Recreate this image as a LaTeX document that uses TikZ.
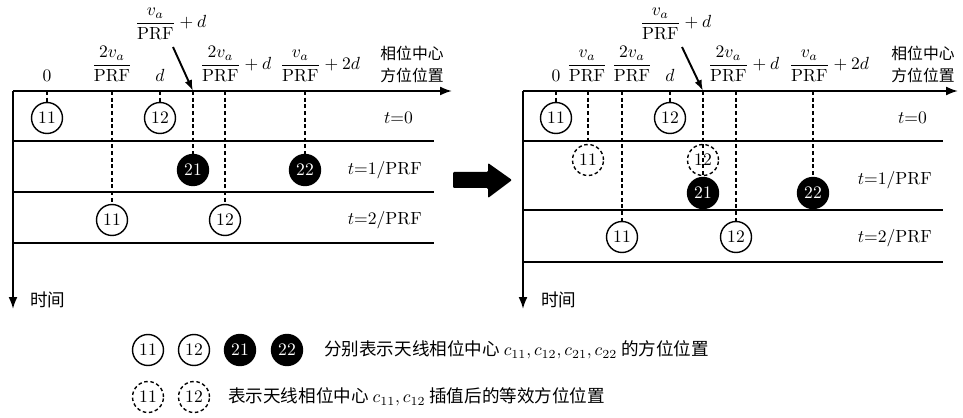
\documentclass[tikz,border=0pt]{standalone}
\usepackage{amsmath}
\usepackage{fontspec}
\newfontfamily\cjk{Noto Sans CJK SC}
\usetikzlibrary{arrows.meta}

\begin{document}
\begin{tikzpicture}[x=0.02cm,y=-0.02cm,
  ant/.style={circle,draw,line width=0.8pt,minimum size=0.62cm,inner sep=0pt},
  antfill/.style={ant,fill=black,text=white},
  antdash/.style={ant,dash pattern=on 2pt off 1.5pt},
  axis/.style={line width=1.1pt,-{Latex[length=2.4mm,width=1.8mm]}},
  rowline/.style={line width=1.1pt},
  tick/.style={line width=1pt,dash pattern=on 2.2pt off 1.6pt},
  ptr/.style={line width=1.1pt,-{Latex[length=2.2mm,width=1.5mm]}},
  lab/.style={anchor=south,inner sep=1pt},
  labw/.style={anchor=south west,inner sep=1pt},
  cjklab/.style={align=center,font=\cjk\fontsize{9}{12.5}\selectfont}]
  \useasboundingbox (0,0) rectangle (963,418);

  % left: before interpolation
  \draw[axis] (13,91) -- (452,91);
  \draw[axis] (13,91) -- (13,309);
  \draw[rowline] (13,141) -- (434,141);
  \draw[rowline] (13,192) -- (434,192);
  \draw[rowline] (13,243) -- (434,243);
  \node[cjklab,font=\cjk\fontsize{10}{12}\selectfont,anchor=west] (ltime) at (24,300) {时间};
  \node[cjklab] (laxis) at (412,64) {相位中心\\方位位置};

  \coordinate (l0) at (47,91);
  \coordinate (l1) at (112,91);
  \coordinate (l2) at (160,91);
  \coordinate (l3) at (193,91);
  \coordinate (l4) at (225,91);
  \coordinate (l5) at (305,91);
  \coordinate (lpt) at (173,47);

  \node[lab] (lx0) at (47,84) {$0$};
  \node[lab] (lx1) at (112,84) {$\dfrac{2v_a}{\mathrm{PRF}}$};
  \node[lab] (lx2) at (160,84) {$d$};
  \node[labw] (lx3) at (133,42) {$\dfrac{v_a}{\mathrm{PRF}}+d$};
  \node[labw] (lx4) at (198,84) {$\dfrac{2v_a}{\mathrm{PRF}}+d$};
  \node[labw] (lx5) at (278,84) {$\dfrac{v_a}{\mathrm{PRF}}+2d$};
  \draw[ptr] (lpt) -- (l3);

  \node[ant] (l11a) at (47,118) {11};
  \node[ant] (l12a) at (160,118) {12};
  \node[antfill] (l21) at (193,170) {21};
  \node[antfill] (l22) at (305,170) {22};
  \node[ant] (l11b) at (112,220) {11};
  \node[ant] (l12b) at (225,220) {12};
  \draw[tick] (l0) -- (l11a);
  \draw[tick] (l1) -- (l11b);
  \draw[tick] (l2) -- (l12a);
  \draw[tick] (l3) -- (l21);
  \draw[tick] (l4) -- (l12b);
  \draw[tick] (l5) -- (l22);

  \node[anchor=east] (lt0) at (419,118) {$t{=}0$};
  \node[anchor=east] (lt1) at (428,170) {$t{=}1/\mathrm{PRF}$};
  \node[anchor=east] (lt2) at (428,220) {$t{=}2/\mathrm{PRF}$};

  % big arrow
  \fill[rounded corners=0.6pt] (453,172) -- (488,172) -- (488,163) -- (512,180)
    -- (488,198) -- (488,188) -- (453,188) -- cycle;

  % right: after interpolation
  \draw[axis] (523,91) -- (958,91);
  \draw[axis] (523,91) -- (523,309);
  \draw[rowline] (523,141) -- (943,141);
  \draw[line width=0.7pt] (523,210) -- (943,210);
  \draw[rowline] (523,262) -- (943,262);
  \node[cjklab,font=\cjk\fontsize{10}{12}\selectfont,anchor=west] (rtime) at (535,300) {时间};
  \node[cjklab] (raxis) at (923,64) {相位中心\\方位位置};

  \coordinate (r0) at (556,91);
  \coordinate (r1) at (588,91);
  \coordinate (r2) at (622,91);
  \coordinate (r3) at (670,91);
  \coordinate (r4) at (703,91);
  \coordinate (r5) at (736,91);
  \coordinate (r6) at (813,91);
  \coordinate (rpt) at (682,47);

  \node[lab] (rx0) at (556,84) {$0$};
  \node[lab] (rx1) at (587,84) {$\dfrac{v_a}{\mathrm{PRF}}$};
  \node[lab] (rx2) at (632,84) {$\dfrac{2v_a}{\mathrm{PRF}}$};
  \node[lab] (rx3) at (670,84) {$d$};
  \node[labw] (rx4) at (638,42) {$\dfrac{v_a}{\mathrm{PRF}}+d$};
  \node[labw] (rx5) at (706,84) {$\dfrac{2v_a}{\mathrm{PRF}}+d$};
  \node[labw] (rx6) at (787,84) {$\dfrac{v_a}{\mathrm{PRF}}+2d$};
  \draw[ptr] (rpt) -- (r4);

  \node[ant] (r11a) at (556,118) {11};
  \node[ant] (r12a) at (670,118) {12};
  \node[antdash] (r11d) at (588,160) {11};
  \node[antdash] (r12d) at (703,160) {12};
  \node[antfill] (r21) at (703,193) {21};
  \node[antfill] (r22) at (813,193) {22};
  \node[ant] (r11b) at (622,237) {11};
  \node[ant] (r12b) at (736,237) {12};
  \draw[tick] (r0) -- (r11a);
  \draw[tick] (r1) -- (r11d);
  \draw[tick] (r2) -- (r11b);
  \draw[tick] (r3) -- (r12a);
  \draw[tick] (r4) -- (r21);
  \draw[tick] (r5) -- (r12b);
  \draw[tick] (r6) -- (r22);

  \node[anchor=east] (rt0) at (933,118) {$t{=}0$};
  \node[anchor=east] (rt1) at (938,180) {$t{=}1/\mathrm{PRF}$};
  \node[anchor=east] (rt2) at (938,238) {$t{=}2/\mathrm{PRF}$};

  % legend
  \node[ant] (k11) at (148,350) {11};
  \node[ant] (k12) at (194,350) {12};
  \node[antfill] (k21) at (240,350) {21};
  \node[antfill] (k22) at (287,350) {22};
  \node[anchor=west,font=\cjk\fontsize{10}{12}\selectfont] (ktext1) at (318,350)
    {分别表示天线相位中心 $c_{11},c_{12},c_{21},c_{22}$ 的方位位置};
  \node[antdash] (k11d) at (148,397) {11};
  \node[antdash] (k12d) at (194,397) {12};
  \node[anchor=west,font=\cjk\fontsize{10}{12}\selectfont] (ktext2) at (222,397)
    {表示天线相位中心 $c_{11},c_{12}$ 插值后的等效方位位置};
\end{tikzpicture}
\end{document}
